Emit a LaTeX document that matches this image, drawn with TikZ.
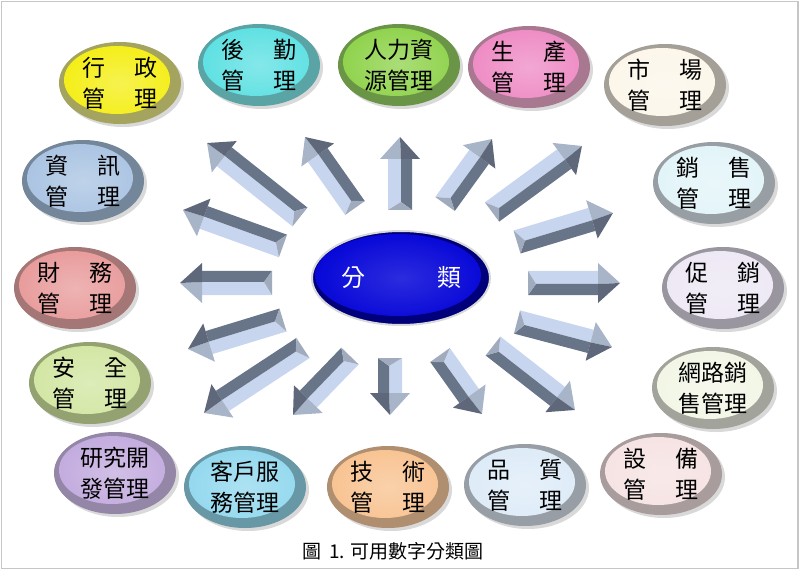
\documentclass[tikz,border=0pt]{standalone}
\usepackage{fontspec}
\newfontfamily\cjk{Noto Sans CJK TC}
\usetikzlibrary{shapes.geometric,shadows}
\definecolor{arlight}{HTML}{C8D5EE}
\definecolor{ardark}{HTML}{687488}
\definecolor{armid}{HTML}{A0ABBD}
\definecolor{arhead}{HTML}{A8B4C8}
\definecolor{mxz}{HTML}{F4EE14}\definecolor{rxz}{HTML}{A4A45E}
\definecolor{mhq}{HTML}{5CE0E2}\definecolor{rhq}{HTML}{5AA4A6}
\definecolor{mrl}{HTML}{8ED24A}\definecolor{rrl}{HTML}{6A9446}
\definecolor{msc}{HTML}{EE8AC4}\definecolor{rsc}{HTML}{A87890}
\definecolor{msm}{HTML}{FCF6EA}\definecolor{rsm}{HTML}{A4A098}
\definecolor{mzx}{HTML}{A9C3E2}\definecolor{rzx}{HTML}{74869A}
\definecolor{mxs}{HTML}{E2F4F8}\definecolor{rxs}{HTML}{989FA4}
\definecolor{mcw}{HTML}{E89A9A}\definecolor{rcw}{HTML}{A47676}
\definecolor{mcx}{HTML}{EDE8F4}\definecolor{rcx}{HTML}{9A96A0}
\definecolor{maq}{HTML}{D2E6A2}\definecolor{raq}{HTML}{94A272}
\definecolor{mwl}{HTML}{F2F6E6}\definecolor{rwl}{HTML}{A2A49C}
\definecolor{myj}{HTML}{C2AADE}\definecolor{ryj}{HTML}{9486A6}
\definecolor{mkf}{HTML}{92D8EE}\definecolor{rkf}{HTML}{6898A6}
\definecolor{mjs}{HTML}{F8C290}\definecolor{rjs}{HTML}{B08E70}
\definecolor{mpz}{HTML}{DDEBF8}\definecolor{rpz}{HTML}{989EA6}
\definecolor{msb}{HTML}{F6E2E2}\definecolor{rsb}{HTML}{A89C9C}
\definecolor{cblue}{HTML}{0606D8}\definecolor{cnavy}{HTML}{00007A}
\newcommand\lblfont{\cjk\fontsize{23}{31}\selectfont}
\newcommand\blockarr[2]{%
  \path (#1); \pgfgetlastxy{\arAx}{\arAy}%
  \path (#2); \pgfgetlastxy{\arBx}{\arBy}%
  \pgfmathsetmacro\arang{atan2(\arBy-\arAy,\arBx-\arAx)}%
  \pgfmathsetmacro\arlen{veclen(\arBx-\arAx,\arBy-\arAy)}%
  \pgfmathsetmacro\arneck{\arlen-22}%
  \begin{scope}[shift={(#1)}, rotate=\arang]
    \fill[arlight] (0,12) -- (\arneck,12) -- (\arneck,-1) -- (8,-1) -- cycle;
    \fill[ardark] (0,-12) -- (\arneck,-12) -- (\arneck,-1) -- (8,-1) -- cycle;
    \fill[armid] (0,12) -- (8,-1) -- (0,-12) -- cycle;
    \fill[arhead] (\arneck,20) -- (\arlen,0) -- (\arneck,-1) -- cycle;
    \fill[ardark!90!black] (\arneck,-20) -- (\arlen,0) -- (\arneck,-1) -- cycle;
  \end{scope}}
\tikzset{
  bub/.style 2 args={ellipse, minimum width=122pt, minimum height=82pt, inner sep=0pt,
    align=center, fill=#2, font=\lblfont, text=black,
    drop shadow={shadow xshift=3pt, shadow yshift=-3pt, opacity=0.3, fill=gray},
    path picture={\shade[inner color=#1!75!white, outer color=#1]
      ([xshift=-3pt,yshift=3pt]path picture bounding box.center) ellipse [x radius=53pt, y radius=34pt];}},
  ctrbub/.style={ellipse, minimum width=178pt, minimum height=94pt, inner sep=0pt,
    fill=cnavy, draw=gray!30, line width=2pt, text=white, font=\cjk\fontsize{24}{30}\selectfont,
    path picture={\shade[inner color=cblue!85!white, outer color=cblue]
      ([xshift=-3pt,yshift=3pt]path picture bounding box.center) ellipse [x radius=83pt, y radius=41pt];}},
  frame/.style={draw=gray!45, line width=1.5pt}
}
\begin{document}
\begin{tikzpicture}[x=1pt,y=1pt]
\useasboundingbox (0,0) rectangle (800,571);
\draw[frame] (1.5,2.5) rectangle (798,569.5);
% arrows
\coordinate (a1t) at (400,361);  \coordinate (a1h) at (400,434);
\coordinate (a2t) at (355,363);  \coordinate (a2h) at (305,434);
\coordinate (a3t) at (300,354);  \coordinate (a3h) at (207,428);
\coordinate (a4t) at (283,325);  \coordinate (a4h) at (183,361);
\coordinate (a5t) at (272,288);  \coordinate (a5h) at (180,288);
\coordinate (a6t) at (283,251);  \coordinate (a6h) at (188,222);
\coordinate (a7t) at (303,223);  \coordinate (a7h) at (204,158);
\coordinate (a8t) at (350,215);  \coordinate (a8h) at (293,156);
\coordinate (a9t) at (390,213);  \coordinate (a9h) at (390,156);
\coordinate (a10t) at (440,216); \coordinate (a10h) at (482,157);
\coordinate (a11t) at (493,225); \coordinate (a11h) at (575,161);
\coordinate (a12t) at (517,249); \coordinate (a12h) at (612,224);
\coordinate (a13t) at (528,288); \coordinate (a13h) at (620,288);
\coordinate (a14t) at (517,329); \coordinate (a14h) at (613,358);
\coordinate (a15t) at (492,359); \coordinate (a15h) at (582,425);
\coordinate (a16t) at (445,367); \coordinate (a16h) at (492,432);
\foreach \i in {1,...,16}{\blockarr{a\i t}{a\i h}}
% centre
\node[ctrbub] (ctr) at (401,293) {分\hspace{3em}類};
% outer bubbles
\node[bub={mxz}{rxz}] (xz) at (120,488) {行\hspace{1.3em}政\\管\hspace{1.3em}理};
\node[bub={mhq}{rhq}] (hq) at (259,506) {後\hspace{1.3em}勤\\管\hspace{1.3em}理};
\node[bub={mrl}{rrl}] (rl) at (399,506) {人力資\\源管理};
\node[bub={msc}{rsc}] (sc) at (529,504) {生\hspace{1.3em}產\\管\hspace{1.3em}理};
\node[bub={msm}{rsm}] (sm) at (665,486) {市\hspace{1.3em}場\\管\hspace{1.3em}理};
\node[bub={mzx}{rzx}] (zx) at (83,390) {資\hspace{1.3em}訊\\管\hspace{1.3em}理};
\node[bub={mxs}{rxs}] (xs) at (714,388) {銷\hspace{1.3em}售\\管\hspace{1.3em}理};
\node[bub={mcw}{rcw}] (cw) at (75,283) {財\hspace{1.3em}務\\管\hspace{1.3em}理};
\node[bub={mcx}{rcx}] (cx) at (723,283) {促\hspace{1.3em}銷\\管\hspace{1.3em}理};
\node[bub={maq}{raq}] (aq) at (90,188) {安\hspace{1.3em}全\\管\hspace{1.3em}理};
\node[bub={mwl}{rwl}] (wl) at (713,183) {網路銷\\售管理};
\node[bub={myj}{ryj}] (yj) at (115,98) {研究開\\發管理};
\node[bub={mkf}{rkf}] (kf) at (245,84) {客戶服\\務管理};
\node[bub={mjs}{rjs}] (js) at (388,84) {技\hspace{1.3em}術\\管\hspace{1.3em}理};
\node[bub={mpz}{rpz}] (pz) at (525,86) {品\hspace{1.3em}質\\管\hspace{1.3em}理};
\node[bub={msb}{rsb}] (sb) at (661,97) {設\hspace{1.3em}備\\管\hspace{1.3em}理};
% caption
\node[font=\cjk\fontsize{19}{22}\selectfont] (cap) at (393,20) {圖\hspace{0.4em}1.\hspace{0.3em}可用數字分類圖};
\end{tikzpicture}
\end{document}
